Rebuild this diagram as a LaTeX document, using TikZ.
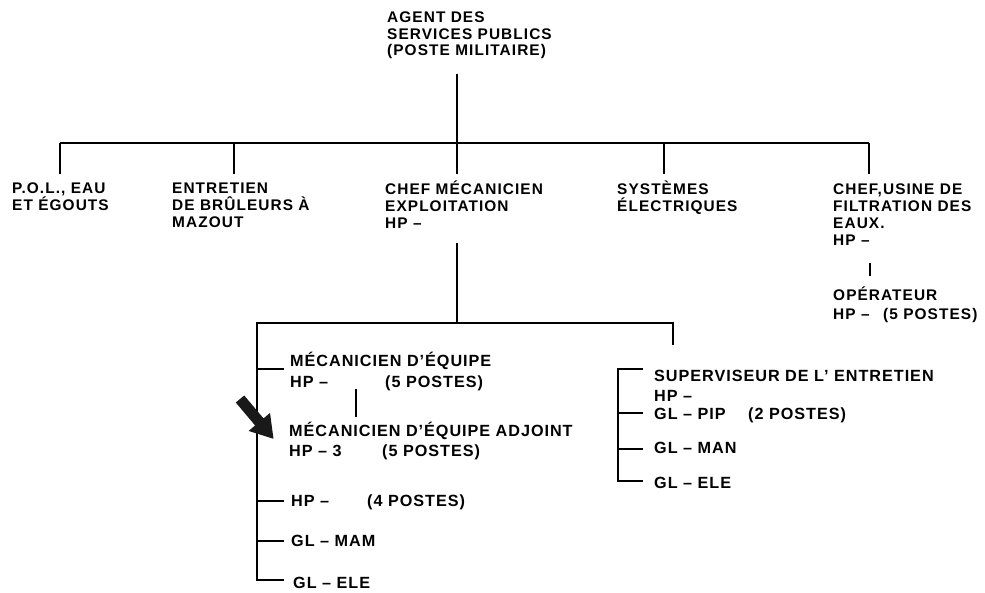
\documentclass[tikz,border=0pt]{standalone}
\usepackage{fontspec}
\setmainfont{Liberation Sans}
\newfontfamily\upfont[LetterSpace=7]{Liberation Sans}
\newfontfamily\lowfont[LetterSpace=6]{Liberation Sans}
\newcommand\myst{\rule{0pt}{16pt}}
\tikzset{
  ln/.style={line width=1.8pt, line join=miter},
  uptxt/.style={anchor=north west, inner sep=0pt, align=left,
    font={\upfont\bfseries\fontsize{15.4}{#1}\selectfont\lineskiplimit=-20pt}},
  uptxt/.default=17,
  lowtxt/.style={anchor=north west, inner sep=0pt, align=left,
    font={\lowfont\bfseries\fontsize{16.2}{#1}\selectfont\lineskiplimit=-20pt}},
  lowtxt/.default=20.5,
}
\begin{document}
\begin{tikzpicture}[x=1pt,y=-1pt]
\useasboundingbox (0,0) rectangle (985,593);
% ---- texts, upper part
\node[uptxt=16.5] (top) at (387,6.5) {\myst AGENT DES\\SERVICES PUBLICS\\(POSTE MILITAIRE)};
\node[uptxt] (pol) at (12,177.5) {\myst P.O.L., EAU\\ET ÉGOUTS};
\node[uptxt] (ent) at (172,177.5) {\myst ENTRETIEN\\DE BRÛLEURS À\\MAZOUT};
\node[uptxt] (chef) at (385,178.5) {\myst CHEF MÉCANICIEN\\EXPLOITATION\\HP –};
\node[uptxt] (sys) at (617,178.5) {\myst SYSTÈMES\\ÉLECTRIQUES};
\node[uptxt] (usine) at (833,178.5) {\myst CHEF,USINE DE\\FILTRATION DES\\EAUX.\\HP –};
\node[uptxt=19] (oper) at (833,284.5) {\myst OPÉRATEUR\\\makebox[50pt][l]{HP –}(5 POSTES)};
% ---- texts, lower part
\node[lowtxt=21] (meq) at (290,350.7) {\myst MÉCANICIEN D’ÉQUIPE\\\makebox[95pt][l]{HP –}(5 POSTES)};
\node[lowtxt=20] (adj) at (289,420.7) {\myst MÉCANICIEN D’ÉQUIPE ADJOINT\\\makebox[93pt][l]{HP – 3}(5 POSTES)};
\node[lowtxt] (hpq) at (291,490.7) {\myst\makebox[76pt][l]{HP –}(4 POSTES)};
\node[lowtxt] (mam) at (291,530.7) {\myst GL – MAM};
\node[lowtxt] (elea) at (293,572.7) {\myst GL – ELE};
\node[lowtxt=20] (sup) at (654,365.7) {\myst SUPERVISEUR DE L’ ENTRETIEN\\HP –};
\node[lowtxt] (pip) at (654,403.7) {\myst\makebox[94pt][l]{GL – PIP}(2 POSTES)};
\node[lowtxt] (man) at (654,437.7) {\myst GL – MAN};
\node[lowtxt] (eleb) at (654,472.7) {\myst GL – ELE};
% ---- junction coordinates
\coordinate (t0) at (457,74);
\coordinate (b0) at (457,143);
\coordinate (busL) at (60,143);
\coordinate (busR) at (869,143);
\coordinate (d1) at (60,174);
\coordinate (d2) at (234,174);
\coordinate (d3) at (457,174);
\coordinate (d4) at (664,174);
\coordinate (d5) at (869,174);
\coordinate (c0) at (457,243);
\coordinate (c1) at (457,323);
\coordinate (l0) at (257,323);
\coordinate (r0) at (673,323);
\coordinate (r1) at (673,345);
\coordinate (lbot) at (257,580);
\coordinate (lbotE) at (284,580);
\coordinate (lt1) at (284,369);
\coordinate (lt2) at (284,501);
\coordinate (lt3) at (284,541);
\coordinate (m0) at (356,389);
\coordinate (m1) at (356,417);
\coordinate (rv0) at (618,369);
\coordinate (rv1) at (618,481);
\coordinate (rt0) at (643,369);
\coordinate (rt1) at (643,413);
\coordinate (rt2) at (643,449);
\coordinate (rt3) at (643,481);
\coordinate (o0) at (870,263);
\coordinate (o1) at (870,276);
% ---- connectors
\draw[ln] (t0) -- (b0);
\draw[ln] (busL) -- (busR);
\foreach \d in {d1,d2,d3,d4,d5} \draw[ln] (\d |- busL) -- (\d);
\draw[ln] (c0) -- (c1);
\draw[ln] (r1) -- (r0) -- (l0) -- (lbot) -- (lbotE);
\foreach \t in {lt1,lt2,lt3} \draw[ln] (l0 |- \t) -- (\t);
\draw[ln] (m0) -- (m1);
\draw[ln] (rt0) -- (rv0) -- (rv1) -- (rt3);
\foreach \t in {rt1,rt2} \draw[ln] (rv0 |- \t) -- (\t);
\draw[ln] (o0) -- (o1);
% ---- block arrow
\coordinate (atail) at (240,399);
\begin{scope}[shift={(atail)}, x={(0.644pt,-0.765pt)}, y={(0.765pt,0.644pt)}]
  \fill[black!90] (0,-5.5) -- (30,-5.5) -- (30,-14) -- (52,0) -- (30,14) -- (30,5.5) -- (0,5.5) -- cycle;
\end{scope}
\end{tikzpicture}
\end{document}
